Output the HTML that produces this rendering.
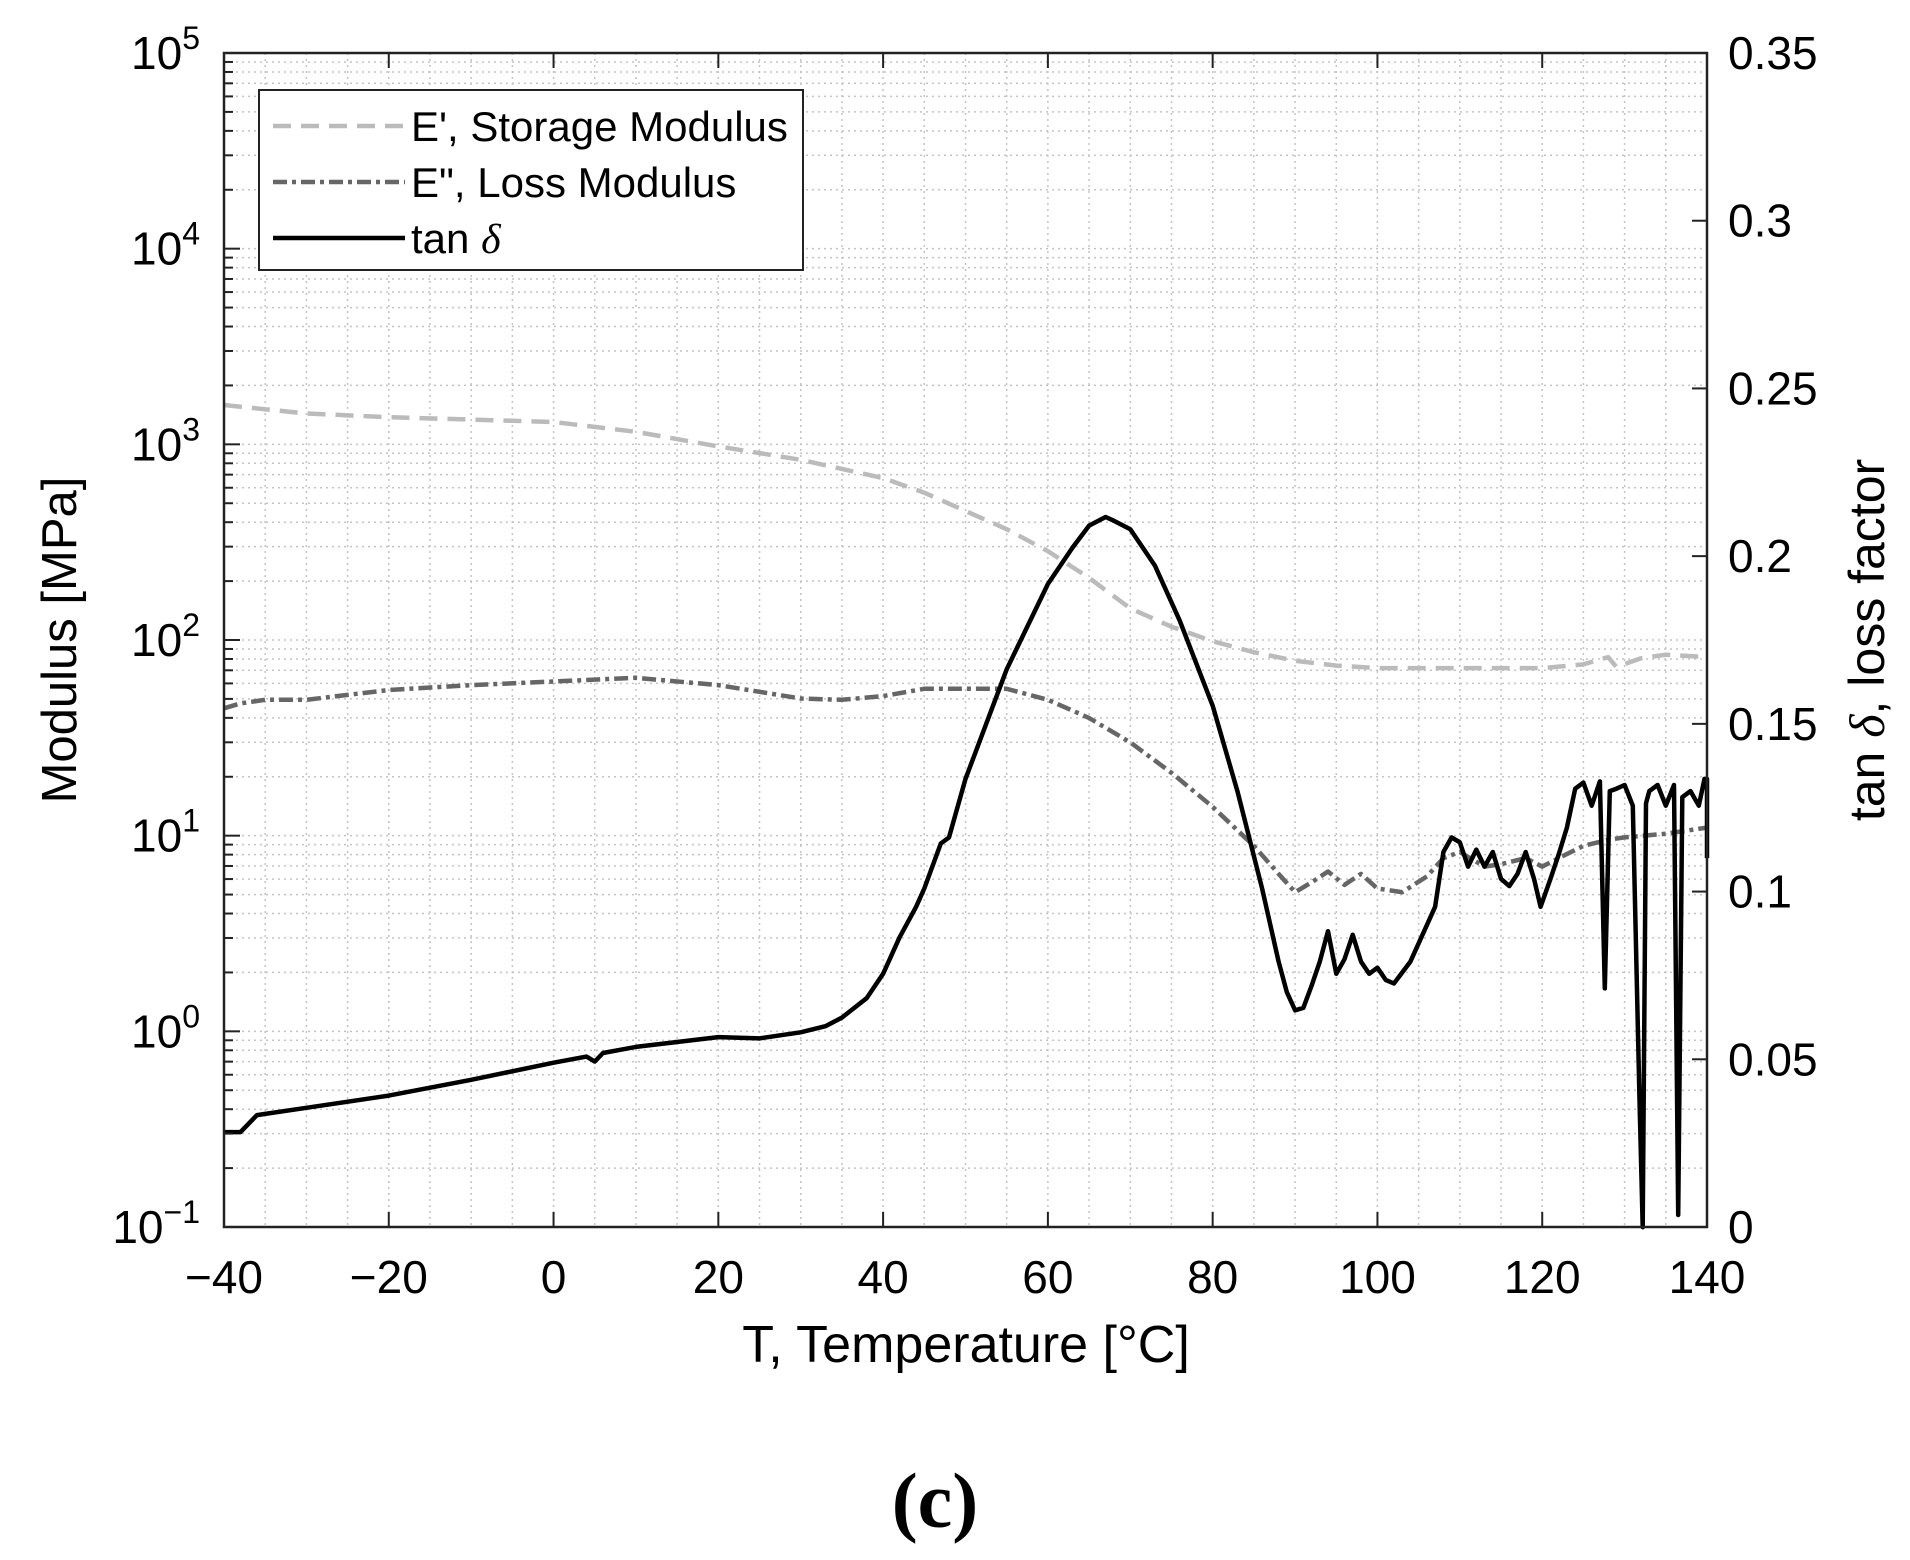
<!DOCTYPE html>
<html><head><meta charset="utf-8"><style>html,body{margin:0;padding:0;background:#fff;}svg{display:block}</style></head>
<body>
<svg id="s" width="1910" height="1560" xmlns="http://www.w3.org/2000/svg" font-family="Liberation Sans, Arial, sans-serif">
<g id="grid"></g>
<g id="series"></g>
<g id="axes"></g>
<g id="legend">
<rect x="259" y="90" width="544" height="180" fill="#fff" stroke="#222" stroke-width="2"/>
<line x1="273" y1="126" x2="405" y2="126" stroke="#bbb" stroke-width="4.5" stroke-dasharray="18,10"/>
<line x1="273" y1="182" x2="405" y2="182" stroke="#666" stroke-width="4.5" stroke-dasharray="14,5,4,5"/>
<line x1="273" y1="238" x2="405" y2="238" stroke="#000" stroke-width="4.5"/>
<text x="411" y="141" font-size="42">E', Storage Modulus</text>
<text x="411" y="197" font-size="42">E", Loss Modulus</text>
<text x="411" y="253" font-size="42">tan <tspan font-family="Liberation Serif, serif" font-style="italic">δ</tspan></text>
</g>
<text x="966" y="1362" font-size="52" text-anchor="middle">T, Temperature [°C]</text>
<text transform="translate(76,640) rotate(-90)" font-size="49" text-anchor="middle">Modulus [MPa]</text>
<text transform="translate(1884,640) rotate(-90)" font-size="50" text-anchor="middle">tan <tspan font-family="Liberation Serif, serif" font-style="italic">δ</tspan>, loss factor</text>
<text x="935" y="1527" font-size="78" font-weight="bold" font-family="Liberation Serif, serif" text-anchor="middle">(c)</text>
</svg>
<script>
const NS="http://www.w3.org/2000/svg";
const L=224,R=1707,T=53,B=1227;
const X=t=>L+(t+40)*(R-L)/180;
const YL=v=>B-(Math.log10(v)+1)*(B-T)/6;
function el(p,n,a,txt){const e=document.createElementNS(NS,n);for(const k in a)e.setAttribute(k,a[k]);if(txt!==undefined)e.textContent=txt;p.appendChild(e);return e;}
const g=document.getElementById('grid'),ax=document.getElementById('axes'),se=document.getElementById('series');
for(let t=-35;t<140;t+=5){el(g,'line',{x1:X(t),x2:X(t),y1:T,y2:B,stroke:'#c4c4c4','stroke-width':1.5,'stroke-dasharray':'2,4'});}
for(let d=-1;d<5;d++){for(let m=1;m<10;m++){const v=m*Math.pow(10,d);const y=YL(v);if(y<=T+1)continue;el(g,'line',{x1:L,x2:R,y1:y,y2:y,stroke:'#c4c4c4','stroke-width':1.5,'stroke-dasharray':'2,4'});
 el(ax,'line',{x1:L,x2:L+(m==1?16:9),y1:y,y2:y,stroke:'#222','stroke-width':2});}}
for(let t=-40;t<=140;t+=20){const x=X(t);el(ax,'line',{x1:x,x2:x,y1:B,y2:B-15,stroke:'#222','stroke-width':2});el(ax,'line',{x1:x,x2:x,y1:T,y2:T+15,stroke:'#222','stroke-width':2});
 el(ax,'text',{x:x,y:1293,'font-size':46,'text-anchor':'middle'},(t<0?'\u2212':'')+Math.abs(t));}
for(let d=-1;d<=5;d++){const y=YL(Math.pow(10,d));const t=el(ax,'text',{x:200,y:y+16,'font-size':46,'text-anchor':'end'});
 el(t,'tspan',{},'10');el(t,'tspan',{dy:-20,'font-size':32},(d<0?'\u2212':'')+Math.abs(d));}
for(let i=0;i<=7;i++){const y=B-i*(B-T)/7;el(ax,'line',{x1:R,x2:R-15,y1:y,y2:y,stroke:'#222','stroke-width':2});
 const lab=i==0?'0':(i*0.05).toFixed(2).replace(/0$/,'');el(ax,'text',{x:1728,y:y+16,'font-size':46},lab);}
el(ax,'rect',{x:L,y:T,width:R-L,height:B-T,fill:'none',stroke:'#222','stroke-width':2.5});
const Yd=y=>y*1.218-0.6;
function path(pts,st){let d='';pts.forEach((p,i)=>{d+=(i?'L':'M')+X(p[0]).toFixed(1)+','+Yd(p[1]).toFixed(1);});el(se,'path',Object.assign({d:d,fill:'none','stroke-linejoin':'round'},st));}
const Ep=[[-40,333],[-30,340],[-20,343],[-10,345],[0,347],[10,355],[20,367],[30,378],[40,393],[45,405],[50,420],[55,435],[60,453],[65,475],[70,500],[75,515],[80,527],[85,536],[90,543],[95,547],[100,549],[110,549],[120,549],[125,546],[128,540],[129,548],[132,541],[135,538],[140,540]];
const Epp=[[-40,582],[-38,578],[-35,575],[-30,575],[-20,567],[-10,563],[0,560],[10,557],[20,563],[30,574],[35,575],[40,572],[45,566],[50,566],[55,566],[60,575],[65,590],[70,610],[75,635],[80,663],[85,695],[88,718],[90,733],[92,725],[94,716],[96,727],[98,718],[100,730],[103,733],[106,720],[108,705],[110,700],[113,712],[115,710],[118,705],[120,712],[122,705],[125,695],[128,690],[130,688],[135,685],[140,680]];
const Tn=[[-40,930],[-38,930],[-36,916],[-35,915],[-30,910],[-20,900],[-10,887],[0,873],[4,868],[5,872],[6,865],[10,860],[20,852],[25,853],[30,848],[33,843],[35,836],[38,820],[40,800],[42,770],[44,745],[45,730],[47,693],[48,688],[50,640],[55,550],[60,480],[63,450],[65,432],[67,425],[68,428],[70,435],[73,465],[76,510],[80,580],[83,650],[86,730],[88,790],[89,815],[90,830],[91,828],[92,810],[93,790],[94,765],[95,800],[96,788],[97,768],[98,790],[99,800],[100,795],[101,805],[102,808],[104,790],[106,760],[107,745],[108,700],[109,688],[110,692],[111,712],[112,698],[113,712],[114,700],[115,722],[116,728],[117,718],[118,700],[119,722],[119.8,745],[121,722],[122,702],[123,680],[124,648],[125,643],[126,662],[127,642],[127.6,812],[128.2,650],[129,648],[130,645],[131,662],[131.8,900],[132.2,1008],[132.6,660],[133,650],[134,645],[135,662],[136,645],[136.5,998],[137,655],[138,650],[139,662],[139.7,640],[140,640],[140,705]];
path(Ep,{stroke:'#bbb','stroke-width':4.5,'stroke-dasharray':'18,10'});
path(Epp,{stroke:'#666','stroke-width':4.5,'stroke-dasharray':'14,5,4,5'});
path(Tn,{stroke:'#000','stroke-width':4.5});
</script>
</body></html>
